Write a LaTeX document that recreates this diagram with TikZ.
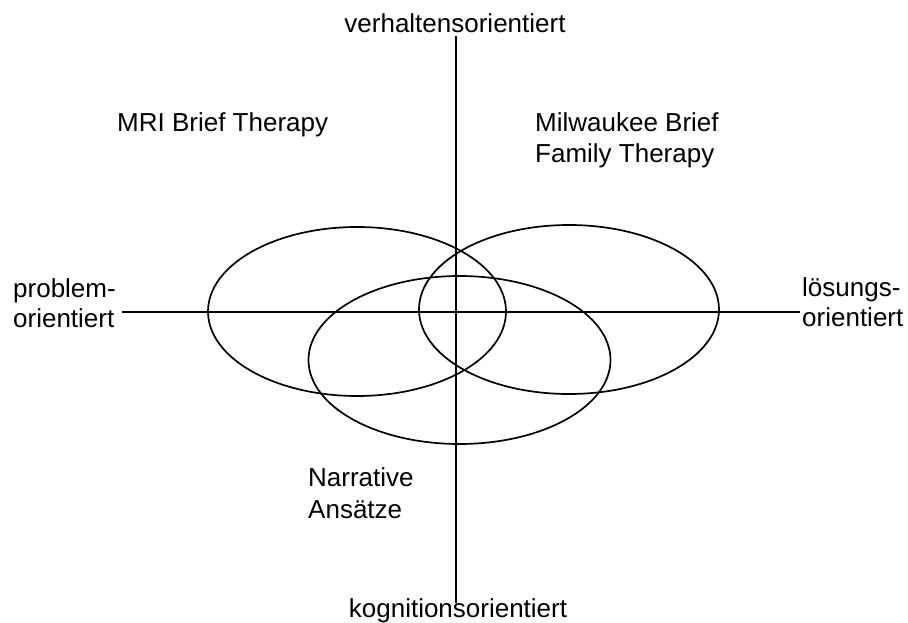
\documentclass[tikz,border=0pt]{standalone}
\usepackage{fontspec}
\setmainfont{Liberation Sans}
\begin{document}
\begin{tikzpicture}[x=1pt,y=-1pt,
  lbl/.style={inner sep=0pt,font=\fontsize{26}{31}\selectfont},
  axis/.style={line width=1.4pt},
  ring/.style={line width=1.7pt}]
\useasboundingbox (0,0) rectangle (908,623);
% axes
\coordinate (vtop) at (456,36);
\coordinate (vbot) at (456,603);
\coordinate (hl) at (122,312);
\coordinate (hr) at (800,312);
\draw[axis] (vtop) -- (vbot);
\draw[axis] (hl) -- (hr);
% ellipses
\draw[ring] (357,311.5) ellipse [x radius=149pt, y radius=84.5pt];
\draw[ring] (569,309.5) ellipse [x radius=150pt, y radius=84.5pt];
\draw[ring] (459.5,360) ellipse [x radius=151pt, y radius=84pt];
% labels
\node[lbl,anchor=base] (verh) at (455,33) {verhaltensorientiert};
\node[lbl,anchor=base] (kogn) at (458,617) {kognitionsorientiert};
\node[lbl,anchor=base west] (prob1) at (13,297) {problem-};
\node[lbl,anchor=base west] (prob2) at (13,327) {orientiert};
\node[lbl,anchor=base west] (loes1) at (802,296) {lösungs-};
\node[lbl,anchor=base west] (loes2) at (802,326) {orientiert};
\node[lbl,anchor=base west] (mri) at (117,132) {MRI Brief Therapy};
\node[lbl,anchor=base west] (milw1) at (535,132) {Milwaukee Brief};
\node[lbl,anchor=base west] (milw2) at (535,163) {Family Therapy};
\node[lbl,anchor=base west] (narr1) at (308,486) {Narrative};
\node[lbl,anchor=base west] (narr2) at (308,518) {Ansätze};
\end{tikzpicture}
\end{document}
